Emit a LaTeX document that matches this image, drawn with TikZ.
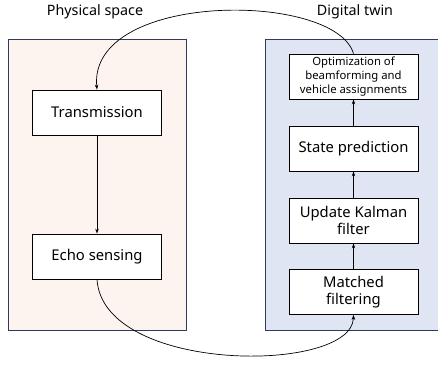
\documentclass[tikz,border=0pt]{standalone}
\usepackage{fontspec}
\setmainfont{Noto Sans}
\usetikzlibrary{arrows.meta}

\definecolor{physfill}{HTML}{FDF4F0}
\definecolor{twinfill}{HTML}{DFE5F2}
\definecolor{panelline}{HTML}{2F3B5E}

\tikzset{
  panel/.style={draw=panelline,line width=0.9pt,anchor=north west,inner sep=0pt},
  stepbox/.style={draw,fill=white,line width=0.8pt,minimum width=129pt,minimum height=45pt,
    align=center,anchor=center,inner sep=1pt,font=\fontsize{14.8}{17}\selectfont},
  title/.style={font=\fontsize{14.3}{16}\selectfont},
  flow/.style={-{Stealth[length=5pt,width=3.5pt]},line width=0.7pt}
}

\begin{document}
\begin{tikzpicture}[x=1pt,y=-1pt]
  \useasboundingbox (0,0) rectangle (438,366);

  % panels
  \node [panel,fill=physfill,minimum width=178pt,minimum height=291pt] (phys) at (8,39) {};
  \node [panel,fill=twinfill,minimum width=174pt,minimum height=291pt] (twin) at (265,39) {};

  \node [title] (physlabel) at (95,12) {Physical space};
  \node [title] (twinlabel) at (355,12) {Digital twin};

  % physical space
  \node [stepbox] (trans) at (97,112.5) {Transmission};
  \node [stepbox] (echo) at (97,256.5) {Echo sensing};

  % digital twin
  \node [stepbox,font=\fontsize{11.3}{14}\selectfont] (opt) at (353.5,76.5)
    {Optimization of\\beamforming and\\vehicle assignments};
  \node [stepbox] (state) at (353.5,148.5) {State prediction};
  \node [stepbox] (kalman) at (353.5,220.5) {Update Kalman\\filter};
  \node [stepbox] (match) at (353.5,292) {Matched\\filtering};

  \draw [flow] (trans) -- (echo);
  \draw [flow] (match) -- (kalman);
  \draw [flow] (kalman) -- (state);
  \draw [flow] (state) -- (opt);

  \draw [flow] (echo.south) .. controls (103,374) and (352,374) .. (match.south);
  \draw [flow] (opt.north) .. controls (335,-9) and (88,-9) .. (trans.north);
\end{tikzpicture}
\end{document}
